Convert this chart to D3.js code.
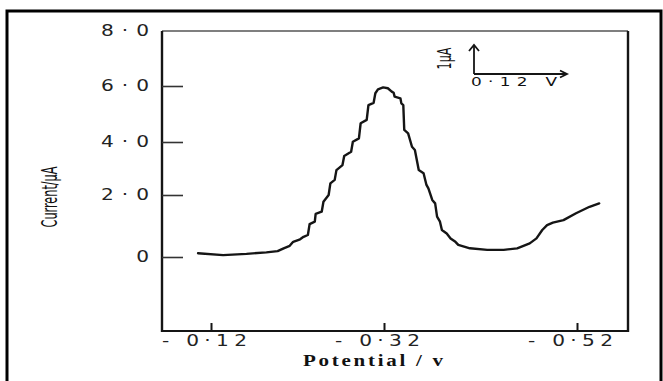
<!DOCTYPE html>
<html><head><meta charset="utf-8">
<script src="https://cdn.jsdelivr.net/npm/d3@7"></script>
<style>html,body{margin:0;padding:0;background:#fff;} svg{display:block}</style>
</head><body>
<svg id="chart" width="663" height="381"></svg>
<script>
// ---- data ----
const potential = [0.105,0.134,0.161,0.184,0.197,0.204,0.211,0.215,0.223,0.227,0.232,0.234,0.240,0.241,0.248,0.250,0.256,0.258,0.263,0.265,0.272,0.274,0.282,0.284,0.291,0.293,0.300,0.302,0.308,0.310,0.313,0.319,0.324,0.328,0.330,0.331,0.337,0.338,0.340,0.341,0.345,0.349,0.352,0.356,0.361,0.364,0.366,0.370,0.373,0.375,0.378,0.380,0.385,0.389,0.394,0.397,0.409,0.427,0.444,0.458,0.471,0.478,0.484,0.489,0.495,0.506,0.519,0.533,0.543];
const current = [0.12,0.06,0.10,0.15,0.19,0.28,0.36,0.49,0.57,0.65,0.71,1.06,1.14,1.39,1.46,1.78,2.00,2.44,2.57,2.94,3.13,3.47,3.63,4.01,4.13,4.67,4.79,5.32,5.40,5.74,5.88,5.95,5.92,5.80,5.76,5.62,5.56,5.38,5.32,4.43,4.31,3.82,3.70,2.94,2.82,2.38,2.25,1.84,1.73,1.30,1.14,0.87,0.76,0.60,0.49,0.39,0.28,0.23,0.23,0.28,0.44,0.60,0.87,1.03,1.11,1.19,1.41,1.62,1.73];
const xTicks = [0.12, 0.32, 0.52];
const xTickLabels = ["- 0·12", "- 0·32", "- 0·52"];
const yTicks = [0, 2, 4, 6, 8];
const yTickLabels = ["0", "2·0", "4·0", "6·0", "8·0"];
const xTitle = "Potential / v";
const yTitle = "Current/µA";
const scaleBarY = "1µA";
const scaleBarX = "0·12 V";

// ---- layout ----
const svg = d3.select("#chart");
const L = 162, R = 628, T = 31, B = 331;
const ink = "#151515";
const wide = 1.3; // horizontal stretch for the wide geometric lettering

const x = d3.scaleLinear().domain([0.12, 0.32, 0.52]).range([211, 384, 577]);
const y = d3.scaleLinear().domain([0, 2, 4, 6, 8]).range([257, 195, 142, 86, 31]);

// outer frame
svg.append("rect").attr("x", 7).attr("y", 11).attr("width", 654).attr("height", 420)
  .attr("fill", "none").attr("stroke", "#000").attr("stroke-width", 3);

// plot frame
svg.append("line").attr("x1", L).attr("x2", R).attr("y1", T).attr("y2", T)
  .attr("stroke", "#555").attr("stroke-width", 1.3);
svg.append("line").attr("x1", L).attr("x2", L).attr("y1", T).attr("y2", B + 1)
  .attr("stroke", ink).attr("stroke-width", 2.4);
svg.append("line").attr("x1", L).attr("x2", R).attr("y1", B).attr("y2", B)
  .attr("stroke", ink).attr("stroke-width", 2);
svg.append("line").attr("x1", R).attr("x2", R).attr("y1", T).attr("y2", B + 1)
  .attr("stroke", ink).attr("stroke-width", 2.4);

// y axis
const gy = svg.append("g").attr("transform", `translate(${L},0)`)
  .call(d3.axisLeft(y).tickValues(yTicks).tickSize(-21).tickPadding(13)
    .tickFormat((d, i) => yTickLabels[i]));
gy.select(".domain").remove();
gy.selectAll(".tick").filter(d => d === 8).select("line").remove();
gy.selectAll(".tick line").attr("stroke", "#333").attr("stroke-width", 1.6);
gy.selectAll(".tick text")
  .attr("fill", "#222")
  .attr("x", -13 / wide)
  .attr("transform", `scale(${wide},1)`)
  .style("font-family", "'DejaVu Sans', sans-serif")
  .style("font-size", "15.5px")
  .each(function(d) { if (d !== 0) d3.select(this).attr("textLength", 48 / wide).attr("lengthAdjust", "spacing"); });

// x axis
const gx = svg.append("g").attr("transform", `translate(0,${B})`)
  .call(d3.axisBottom(x).tickValues(xTicks).tickSize(-8).tickPadding(4)
    .tickFormat((d, i) => xTickLabels[i]));
gx.select(".domain").remove();
gx.selectAll(".tick line").attr("stroke", ink).attr("stroke-width", 2);
gx.selectAll(".tick text")
  .attr("fill", "#222").attr("dx", -7 / wide)
  .attr("transform", `scale(${wide},1)`)
  .attr("textLength", 85 / wide).attr("lengthAdjust", "spacing")
  .style("font-family", "'DejaVu Sans', sans-serif")
  .style("font-size", "15.5px");

// axis titles
svg.append("text").attr("transform", "translate(373,366) scale(1.2,1)")
  .attr("text-anchor", "middle")
  .attr("textLength", 140 / 1.2).attr("lengthAdjust", "spacing")
  .attr("fill", "#111")
  .style("font-family", "'Liberation Serif', 'Times New Roman', serif")
  .style("font-weight", "bold").style("font-size", "17.5px")
  .text(xTitle);

svg.append("text").attr("transform", "translate(57,197) rotate(-90)")
  .attr("text-anchor", "middle")
  .attr("textLength", 61).attr("lengthAdjust", "spacingAndGlyphs")
  .attr("fill", "#111")
  .style("font-family", "'Liberation Sans Narrow', 'DejaVu Sans Condensed', sans-serif")
  .style("font-size", "22px")
  .text(yTitle);

// curve
const pts = potential.map((p, i) => [p, current[i]]);
svg.append("path").datum(pts)
  .attr("fill", "none").attr("stroke", ink).attr("stroke-width", 2.4)
  .attr("stroke-linejoin", "round").attr("stroke-linecap", "round")
  .attr("d", d3.line().x(d => x(d[0])).y(d => y(d[1])));

// scale-bar inset
const sb = svg.append("g").attr("stroke", ink).attr("stroke-width", 1.8).attr("fill", "none");
sb.append("line").attr("x1", 474).attr("x2", 474).attr("y1", 74).attr("y2", 45);
sb.append("polyline").attr("points", "469,51 474,45 479,51");
sb.append("line").attr("x1", 474).attr("x2", 567).attr("y1", 74).attr("y2", 74);
sb.append("polyline").attr("points", "560,70.5 567,74 560,77.5");

svg.append("text").attr("transform", "translate(451,58.5) rotate(-90)")
  .attr("text-anchor", "middle")
  .attr("textLength", 22).attr("lengthAdjust", "spacingAndGlyphs")
  .attr("fill", "#111")
  .style("font-family", "'Liberation Sans Narrow', 'DejaVu Sans Condensed', sans-serif")
  .style("font-size", "20px")
  .text(scaleBarY);

svg.append("text").attr("transform", `translate(471,86) scale(${wide},1)`)
  .attr("textLength", 86 / wide).attr("lengthAdjust", "spacing")
  .attr("fill", "#111")
  .style("font-family", "'DejaVu Sans', sans-serif")
  .style("font-size", "13px")
  .text(scaleBarX);
</script>
</body></html>
